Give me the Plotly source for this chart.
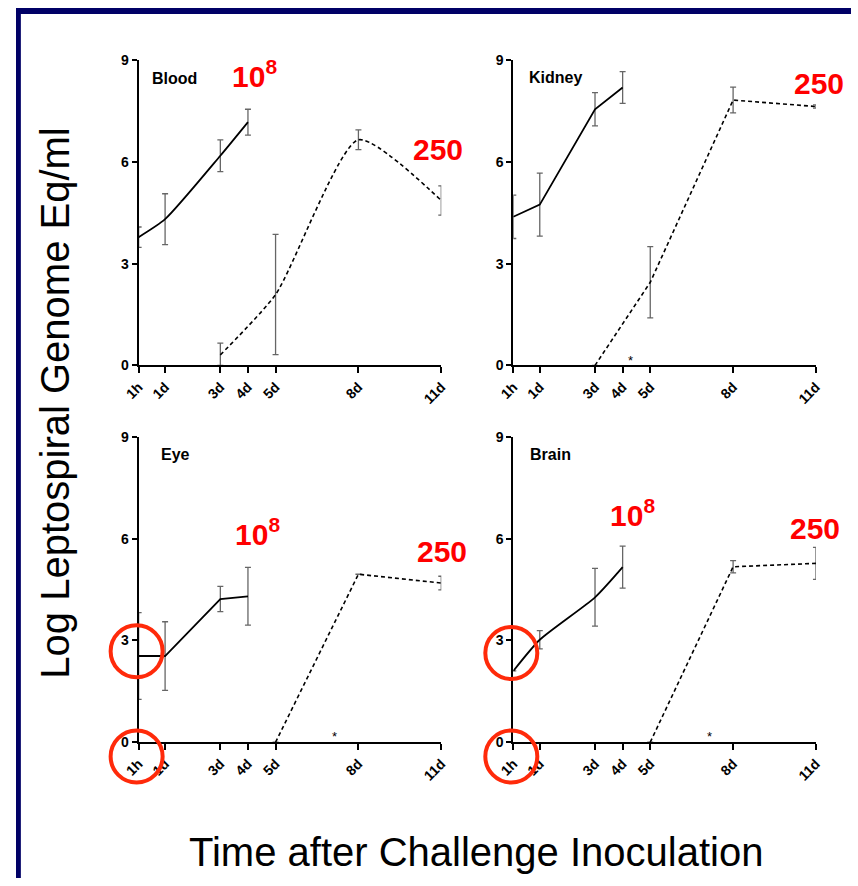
import plotly.graph_objects as go

# Sampling times in days (1 hour = 1/24 day)
H1 = 1 / 24
tick_vals = [H1, 1, 3, 4, 5, 8, 11]
tick_text = ["1h", "1d", "3d", "4d", "5d", "8d", "11d"]
y_ticks = [0, 3, 6, 9]

# High dose (10^8) group, solid line
high_x = [H1, 1, 3, 4]
blood_high = [3.78, 4.31, 6.18, 7.17]
blood_high_err = [0.30, 0.75, 0.47, 0.38]
kidney_high = [4.38, 4.74, 7.55, 8.19]
kidney_high_err = [0.64, 0.93, 0.49, 0.47]
eye_high = [2.54, 2.54, 4.22, 4.30]
eye_high_err = [1.28, 1.01, 0.37, 0.85]
brain_high = [2.10, 3.02, 4.27, 5.16]
brain_high_err = [0.0, 0.27, 0.85, 0.62]

# Low dose (250) group, dashed line
blood_low_x = [3, 5, 8, 11]
blood_low = [0.31, 2.09, 6.65, 4.86]
blood_low_err_up = [0.35, 1.77, 0.29, 0.43]
blood_low_err_dn = [0.31, 1.77, 0.29, 0.43]
kidney_low_x = [3, 5, 8, 11]
kidney_low = [0.0, 2.45, 7.82, 7.63]
kidney_low_err = [0.0, 1.05, 0.38, 0.05]
eye_low_x = [5, 8, 11]
eye_low = [0.0, 4.95, 4.69]
eye_low_err = [0.0, 0.0, 0.20]
brain_low_x = [5, 8, 11]
brain_low = [0.0, 5.17, 5.27]
brain_low_err = [0.0, 0.18, 0.47]

# Significance markers (x in days, y in log units)
star_kidney = (4.27, 0.14)
star_eye = (7.15, 0.17)
star_brain = (7.15, 0.17)

W, H = 858, 886
NAVY = "#000066"
RED = "#ff0000"
CIRCLE = "#ff2a0a"
ERR = "#666666"
X_RANGE = [H1, 11]
Y_RANGE = [0, 9]

fig = go.Figure()

# Panel frames in pixels: (left, right, top, bottom)
panels = [
    ("Blood", 126, 437, 53, 364),
    ("Kidney", 511, 822, 53, 364),
    ("Eye", 126, 437, 436.7, 747.7),
    ("Brain", 511, 822, 436.7, 747.7),
]
AXES = ["", "2", "3", "4"]

tick_font = dict(family="Arial", size=14, color="black", weight="bold")
layout_axes = {}
for (name, l, r, t, b), xs in zip(panels, AXES):
    layout_axes["xaxis" + xs] = dict(
        domain=[l / W, r / W], range=X_RANGE, anchor="y" + xs,
        tickvals=tick_vals, ticktext=tick_text, tickangle=-45,
        ticks="outside", ticklen=6, tickwidth=2, tickcolor="black",
        showline=True, linecolor="black", linewidth=2,
        showgrid=False, zeroline=False, tickfont=tick_font,
    )
    layout_axes["yaxis" + xs] = dict(
        domain=[1 - b / H, 1 - t / H], range=Y_RANGE, anchor="x" + xs,
        tickvals=y_ticks, ticks="outside", ticklen=5, tickwidth=2, tickcolor="black",
        showline=True, linecolor="black", linewidth=2,
        showgrid=False, zeroline=False, tickfont=tick_font,
    )


def to_paper(ax, xv, yv):
    """Map a data point of panel `ax` to paper coordinates."""
    xa = layout_axes["xaxis" + ax]
    ya = layout_axes["yaxis" + ax]
    x0, x1 = xa["domain"]
    y0, y1 = ya["domain"]
    px = x0 + (xv - X_RANGE[0]) / (X_RANGE[1] - X_RANGE[0]) * (x1 - x0)
    py = y0 + (yv - Y_RANGE[0]) / (Y_RANGE[1] - Y_RANGE[0]) * (y1 - y0)
    return px, py


def add_series(xs, ys, eu, ed, axis, dash, shape):
    fig.add_trace(go.Scatter(
        x=xs, y=ys, mode="lines",
        line=dict(color="black", width=1.8 if dash == "solid" else 1.6,
                  dash=dash, shape=shape, smoothing=0.6),
        error_y=dict(type="data", array=eu, arrayminus=ed, symmetric=False,
                     color=ERR, thickness=1.3, width=3),
        xaxis="x" + axis, yaxis="y" + axis, cliponaxis=False, showlegend=False,
        hoverinfo="skip",
    ))


DASH = "4px,3px"
add_series(high_x, blood_high, blood_high_err, blood_high_err, "", "solid", "spline")
add_series(blood_low_x, blood_low, blood_low_err_up, blood_low_err_dn, "", DASH, "spline")
add_series(high_x, kidney_high, kidney_high_err, kidney_high_err, "2", "solid", "linear")
add_series(kidney_low_x, kidney_low, kidney_low_err, kidney_low_err, "2", DASH, "linear")
add_series(high_x, eye_high, eye_high_err, eye_high_err, "3", "solid", "linear")
add_series(eye_low_x, eye_low, eye_low_err, eye_low_err, "3", DASH, "linear")
add_series(high_x, brain_high, brain_high_err, brain_high_err, "4", "solid", "spline")
add_series(brain_low_x, brain_low, brain_low_err, brain_low_err, "4", DASH, "linear")

annotations = []

# Asterisks
for (sx, sy), ax in [(star_kidney, "2"), (star_eye, "3"), (star_brain, "4")]:
    annotations.append(dict(
        x=sx, y=sy, xref="x" + ax, yref="y" + ax, text="*", showarrow=False,
        xanchor="center", yanchor="middle",
        font=dict(family="Arial", size=13, color="black"),
    ))

# Panel titles
title_pos = {"": (0.45, 8.47), "2": (0.53, 8.48), "3": (0.77, 8.49), "4": (0.56, 8.49)}
for (name, *_), ax in zip(panels, AXES):
    tx, ty = title_pos[ax]
    annotations.append(dict(
        x=tx, y=ty, xref="x" + ax, yref="y" + ax, text=name, showarrow=False,
        xanchor="left", yanchor="middle",
        font=dict(family="Arial", size=16, color="black", weight="bold"),
    ))

# Dose labels
dose_pos = {
    "": ((3.35, 8.43), (9.91, 6.36)),
    "2": ((3.60, 9.36), (10.15, 8.30)),
    "3": ((3.46, 6.04), (10.05, 5.61)),
    "4": ((3.46, 6.62), (9.98, 6.30)),
}
for ax, ((hx, hy), (lx, ly)) in dose_pos.items():
    annotations.append(dict(
        x=hx, y=hy, xref="x" + ax, yref="y" + ax, text="10<sup>8</sup>",
        showarrow=False, xanchor="left", yanchor="middle", yshift=5,
        font=dict(family="Arial", size=30, color=RED, weight="bold"),
    ))
    annotations.append(dict(
        x=lx, y=ly, xref="x" + ax, yref="y" + ax, text="250",
        showarrow=False, xanchor="left", yanchor="middle",
        font=dict(family="Arial", size=30, color=RED, weight="bold"),
    ))

# Shared axis titles
annotations.append(dict(
    x=473 / W, y=1 - 860 / H, xref="paper", yref="paper",
    text="Time after Challenge Inoculation", showarrow=False,
    xanchor="center", yanchor="middle",
    font=dict(family="Arial", size=40, color="black"),
))
annotations.append(dict(
    x=40 / W, y=1 - 402 / H, xref="paper", yref="paper",
    text="Log Leptospiral Genome Eq/ml", showarrow=False, textangle=-90,
    xanchor="center", yanchor="middle",
    font=dict(family="Arial", size=40, color="black"),
))

shapes = [
    # Slide frame
    dict(type="rect", xref="paper", yref="paper", x0=0, x1=1, y0=1 - 6 / H, y1=1,
         fillcolor=NAVY, line=dict(width=0), layer="below"),
    dict(type="rect", xref="paper", yref="paper", x0=0, x1=5 / W, y0=0, y1=1,
         fillcolor=NAVY, line=dict(width=0), layer="below"),
]
# Highlight circles around the 1h values of the eye and brain panels
for ax, yc_top in [("3", 2.68), ("4", 2.63)]:
    for yc in (yc_top, -0.42):
        cx, cy = to_paper(ax, H1, yc)
        shapes.append(dict(
            type="circle", xref="paper", yref="paper",
            xsizemode="pixel", ysizemode="pixel",
            xanchor=cx, yanchor=cy, x0=-28, x1=24, y0=-26, y1=26,
            line=dict(color=CIRCLE, width=4), layer="above",
        ))

fig.update_layout(
    width=W, height=H, margin=dict(l=0, r=0, t=0, b=0),
    paper_bgcolor="white", plot_bgcolor="rgba(0,0,0,0)",
    annotations=annotations, shapes=shapes, showlegend=False,
    **layout_axes,
)

fig.write_html("out.html", post_script="document.body.style.margin='0';")
